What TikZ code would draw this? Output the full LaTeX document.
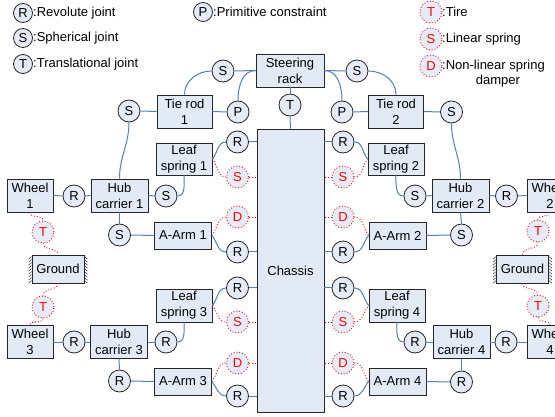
\documentclass[tikz,border=0pt]{standalone}
\usepackage{fontspec}
\setmainfont{Liberation Sans}
\definecolor{boxfill}{RGB}{226,234,246}
\definecolor{jfill}{RGB}{230,236,247}
\definecolor{lineblue}{RGB}{79,129,189}
\begin{document}
\begin{tikzpicture}[x=1pt,y=1pt,
  every node/.style={font=\fontsize{13}{16}\selectfont},
  box/.style={draw=black!85, fill=boxfill, line width=0.8pt, align=center, inner sep=0pt},
  sz/.style 2 args={minimum width=#1pt, minimum height=#2pt},
  jnt/.style={circle, draw=black!85, fill=jfill, line width=0.8pt, minimum size=22pt, inner sep=0pt},
  rjnt/.style={circle, draw=red, dotted, fill=jfill, line width=0.9pt, minimum size=22pt, inner sep=0pt, text=red},
  ljnt/.style={jnt, minimum size=19pt},
  bl/.style={draw=lineblue, line width=1pt},
  rl/.style={draw=red, dotted, line width=0.9pt},
  lbl/.style={anchor=west, inner sep=0pt}
]
\path[use as bounding box] (0,0) rectangle (555,-417);
\clip (0,0) rectangle (555,-417);

% ---------- legend ----------
\node[ljnt] (lR) at (23,-13) {R};
\node[lbl] (lRt) at (33,-13) {:Revolute joint};
\node[ljnt] (lS) at (23,-38) {S};
\node[lbl] (lSt) at (33,-38) {:Spherical joint};
\node[ljnt] (lT) at (23,-64) {T};
\node[lbl] (lTt) at (33,-64) {:Translational joint};
\node[ljnt] (lP) at (203,-12) {P};
\node[lbl] (lPt) at (213,-12) {:Primitive constraint};
\node[rjnt] (lTi) at (431,-12) {T};
\node[lbl] (lTit) at (442,-12) {:Tire};
\node[rjnt] (lLs) at (431,-39) {S};
\node[lbl] (lLst) at (442,-39) {:Linear spring};
\node[rjnt] (lD) at (431,-66) {D};
\node[lbl] (lDt) at (442,-66) {:Non-linear spring};
\node[inner sep=0pt] (lDt2) at (498,-81) {damper};

% ---------- top ----------
\node[box, sz={68}{33}] (rack) at (290,-70.5) {Steering\\rack};
\node[jnt] (sTL) at (223,-71) {S};
\node[jnt] (sTR) at (357,-71) {S};
\node[jnt] (tRack) at (290,-105) {T};
\node[jnt] (pL) at (238,-112) {P};
\node[jnt] (pR) at (342,-112) {P};
\node[box, sz={55}{33}] (tie1) at (184.5,-111.5) {Tie rod\\1};
\node[box, sz={55}{33}] (tie2) at (396,-111.5) {Tie rod\\2};
\node[box, sz={67}{283}] (chassis) at (290.5,-270.5) {Chassis};

% ---------- chassis joints ----------
\foreach \n/\y in {L1/142,L2/252,L3/288,L4/396}{
  \node[jnt] (r\n) at (237.5,-\y) {R};
}
\foreach \n/\y in {R1/142,R2/252,R3/288,R4/396}{
  \node[jnt] (r\n) at (343,-\y) {R};
}
\node[rjnt] (sL1) at (237.5,-177) {S};
\node[rjnt] (dL1) at (237.5,-217) {D};
\node[rjnt] (sL3) at (237.5,-322) {S};
\node[rjnt] (dL3) at (237.5,-363) {D};
\node[rjnt] (sR1) at (343,-177) {S};
\node[rjnt] (dR1) at (343,-217) {D};
\node[rjnt] (sR3) at (343,-322) {S};
\node[rjnt] (dR3) at (343,-363) {D};

% ---------- left side ----------
\node[box, sz={56}{32}] (leaf1) at (184,-159) {Leaf\\spring 1};
\node[box, sz={57}{27}] (arm1) at (183,-235.5) {A-Arm 1};
\node[box, sz={57}{33}] (hub1) at (119.5,-195.5) {Hub\\carrier 1};
\node[box, sz={46}{33}] (wheel1) at (30,-195.5) {Wheel\\1};
\node[jnt] (rW1) at (74,-196) {R};
\node[jnt] (sH1) at (166,-196) {S};
\node[jnt] (sT1) at (129,-111) {S};
\node[jnt] (sA1) at (119.5,-235) {S};
\node[rjnt] (tW1) at (43,-232) {T};
\node[box, sz={52}{28}] (ground1) at (58,-269) {Ground};
\node[rjnt] (tW3) at (43,-307) {T};
\node[box, sz={46}{33}] (wheel3) at (30,-342) {Wheel\\3};
\node[jnt] (rW3) at (74,-342) {R};
\node[box, sz={57}{33}] (hub3) at (119,-342) {Hub\\carrier 3};
\node[jnt] (rH3) at (166,-342) {R};
\node[box, sz={56}{33}] (leaf3) at (184,-305.5) {Leaf\\spring 3};
\node[jnt] (rA3) at (119.5,-381) {R};
\node[box, sz={57}{27}] (arm3) at (183,-381.5) {A-Arm 3};

% ---------- right side ----------
\node[box, sz={56}{32}] (leaf2) at (396,-159) {Leaf\\spring 2};
\node[box, sz={57}{27}] (arm2) at (397.5,-235.5) {A-Arm 2};
\node[box, sz={57}{33}] (hub2) at (460.5,-195.5) {Hub\\carrier 2};
\node[box, sz={46}{33}] (wheel2) at (550,-195.5) {Wheel\\2};
\node[jnt] (rW2) at (506.5,-196) {R};
\node[jnt] (sH2) at (415,-196) {S};
\node[jnt] (sT2) at (451.5,-112) {S};
\node[jnt] (sA2) at (461.5,-235) {S};
\node[rjnt] (tW2) at (538,-231) {T};
\node[box, sz={52}{28}] (ground2) at (522.5,-269) {Ground};
\node[rjnt] (tW4) at (538,-306) {T};
\node[box, sz={46}{33}] (wheel4) at (550,-342) {Wheel\\4};
\node[jnt] (rW4) at (506,-342) {R};
\node[box, sz={57}{33}] (hub4) at (461.5,-342) {Hub\\carrier 4};
\node[jnt] (rH4) at (415,-342) {R};
\node[box, sz={56}{33}] (leaf4) at (397,-305.5) {Leaf\\spring 4};
\node[jnt] (rA4) at (461.5,-382) {R};
\node[box, sz={57}{27}] (arm4) at (397.5,-381.5) {A-Arm 4};

% ---------- ground hatching ----------
\foreach \g in {ground1,ground2}{
  \foreach \k in {0,...,8}{
    \draw[black!80, line width=0.5pt] ([yshift=-2-\k*3]\g.north west) -- ++(-3,-2.5);
    \draw[black!80, line width=0.5pt] ([yshift=-2-\k*3]\g.north east) -- ++(3,-2.5);
  }
}

% ---------- blue connectors ----------
\draw[bl] (tie1.north) to[out=90,in=180] (sTL.west);
\draw[bl] (sTL.east) -- (rack.west);
\draw[bl] (rack.west) to[out=180,in=90] (pL.north);
\draw[bl] (tie1.east) -- (pL.west);
\draw[bl] (rack.east) -- (sTR.west);
\draw[bl] (sTR.east) to[out=0,in=90] (tie2.north);
\draw[bl] (rack.east) to[out=0,in=90] (pR.north);
\draw[bl] (pR.east) -- (tie2.west);
\draw[bl] (rack.south) -- (tRack.north);
\draw[bl] (tRack.south) -- (chassis.north);

\foreach \n in {L1,L2,L3,L4}{
  \draw[bl] (r\n.east) -- (r\n.east -| chassis.west);
}
\foreach \n in {R1,R2,R3,R4}{
  \draw[bl] (r\n.west) -- (r\n.west -| chassis.east);
}
\foreach \n in {L1,L3}{
  \draw[rl] (s\n.east) -- (s\n.east -| chassis.west);
  \draw[rl] (d\n.east) -- (d\n.east -| chassis.west);
}
\foreach \n in {R1,R3}{
  \draw[rl] (s\n.west) -- (s\n.west -| chassis.east);
  \draw[rl] (d\n.west) -- (d\n.west -| chassis.east);
}

% left upper
\draw[bl] (sT1.east) -- (tie1.west);
\draw[bl] (sT1.south) to[out=-90,in=90] (hub1.north);
\draw[bl] (wheel1.east) -- (rW1.west);
\draw[bl] (rW1.east) -- (hub1.west);
\draw[bl] (hub1.east) -- (sH1.west);
\draw[bl] (sH1.east) to[out=0,in=-90] (leaf1.south);
\draw[bl] (hub1.south) -- (sA1.north);
\draw[bl] (sA1.east) -- (arm1.west);
\draw[bl] (leaf1.east) to[out=50,in=180] (rL1.west);
\draw[rl] (leaf1.east) to[out=-50,in=180] (sL1.west);
\draw[rl] (arm1.east) to[out=50,in=180] (dL1.west);
\draw[bl] (arm1.east) to[out=-50,in=180] (rL2.west);

% left lower
\draw[bl] (wheel3.east) -- (rW3.west);
\draw[bl] (rW3.east) -- (hub3.west);
\draw[bl] (hub3.east) -- (rH3.west);
\draw[bl] (rH3.east) to[out=0,in=-90] (leaf3.south);
\draw[bl] (hub3.south) -- (rA3.north);
\draw[bl] (rA3.east) -- (arm3.west);
\draw[bl] (leaf3.east) to[out=50,in=180] (rL3.west);
\draw[rl] (leaf3.east) to[out=-50,in=180] (sL3.west);
\draw[rl] (arm3.east) to[out=50,in=180] (dL3.west);
\draw[bl] (arm3.east) to[out=-50,in=180] (rL4.west);

% right upper
\draw[bl] (tie2.east) -- (sT2.west);
\draw[bl] (sT2.south) to[out=-90,in=90] (hub2.north);
\draw[bl] (hub2.east) -- (rW2.west);
\draw[bl] (rW2.east) -- (wheel2.west);
\draw[bl] (sH2.east) -- (hub2.west);
\draw[bl] (leaf2.south) to[out=-90,in=180] (sH2.west);
\draw[bl] (hub2.south) -- (sA2.north);
\draw[bl] (arm2.east) -- (sA2.west);
\draw[bl] (rR1.east) to[out=0,in=130] (leaf2.west);
\draw[rl] (sR1.east) to[out=0,in=230] (leaf2.west);
\draw[rl] (dR1.east) to[out=0,in=130] (arm2.west);
\draw[bl] (rR2.east) to[out=0,in=230] (arm2.west);

% right lower
\draw[bl] (hub4.east) -- (rW4.west);
\draw[bl] (rW4.east) -- (wheel4.west);
\draw[bl] (rH4.east) -- (hub4.west);
\draw[bl] (leaf4.south) to[out=-90,in=180] (rH4.west);
\draw[bl] (hub4.south) -- (rA4.north);
\draw[bl] (arm4.east) -- (rA4.west);
\draw[bl] (rR3.east) to[out=0,in=130] (leaf4.west);
\draw[rl] (sR3.east) to[out=0,in=230] (leaf4.west);
\draw[rl] (dR3.east) to[out=0,in=130] (arm4.west);
\draw[bl] (rR4.east) to[out=0,in=230] (arm4.west);

% ---------- tires ----------
\draw[rl] (wheel1.south) to[out=-90,in=90] (tW1.north);
\draw[rl] (tW1.south) to[out=-90,in=90] (ground1.north);
\draw[rl] (ground1.south) to[out=-90,in=90] (tW3.north);
\draw[rl] (tW3.south) to[out=-90,in=90] (wheel3.north);
\draw[rl] (wheel2.south) to[out=-90,in=90] (tW2.north);
\draw[rl] (tW2.south) to[out=-90,in=90] (ground2.north);
\draw[rl] (ground2.south) to[out=-90,in=90] (tW4.north);
\draw[rl] (tW4.south) to[out=-90,in=90] (wheel4.north);
\end{tikzpicture}
\end{document}
